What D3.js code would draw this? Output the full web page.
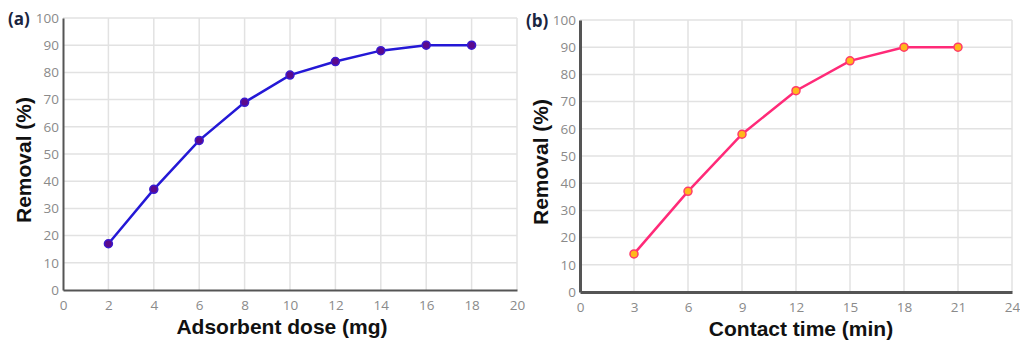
<!DOCTYPE html>
<html>
<head>
<meta charset="utf-8">
<script src="https://cdn.jsdelivr.net/npm/d3@7"></script>
<style>
  body { margin: 0; background: #fff; }
  svg { display: block; }
</style>
</head>
<body>
<svg id="chart" width="1020" height="342"></svg>
<script>
// panel (a) data
const doseX = [2, 4, 6, 8, 10, 12, 14, 16, 18];
const doseRemoval = [17, 37, 55, 69, 79, 84, 88, 90, 90];
const doseTicks = [0, 2, 4, 6, 8, 10, 12, 14, 16, 18, 20];

// panel (b) data
const timeX = [3, 6, 9, 12, 15, 18, 21];
const timeRemoval = [14, 37, 58, 74, 85, 90, 90];
const timeTicks = [0, 3, 6, 9, 12, 15, 18, 21, 24];

const removalTicks = [0, 10, 20, 30, 40, 50, 60, 70, 80, 90, 100];

const svg = d3.select('#chart');

function drawPanel(opt) {
  const x = d3.scaleLinear().domain([0, opt.xMax]).range([opt.left, opt.right]);
  const y = d3.scaleLinear().domain([0, 100]).range([opt.bottom, opt.top]);
  const g = svg.append('g');

  // grid
  g.append('g').selectAll('line').data(opt.xTicks.slice(1)).enter().append('line')
    .attr('x1', d => x(d)).attr('x2', d => x(d))
    .attr('y1', y(0)).attr('y2', y(100))
    .attr('stroke', '#e2e2e2').attr('stroke-width', 1.5);
  g.append('g').selectAll('line').data(removalTicks.slice(1)).enter().append('line')
    .attr('x1', x(0)).attr('x2', x(opt.xMax))
    .attr('y1', d => y(d)).attr('y2', d => y(d))
    .attr('stroke', '#e2e2e2').attr('stroke-width', 1.5);

  // axes
  const xAxis = g.append('g').attr('transform', `translate(0,${y(0)})`)
    .call(d3.axisBottom(x).tickValues(opt.xTicks).tickSize(0).tickPadding(10));
  const yAxis = g.append('g').attr('transform', `translate(${x(0)},0)`)
    .call(d3.axisLeft(y).tickValues(removalTicks).tickSize(0).tickPadding(4));
  [xAxis, yAxis].forEach(a => {
    a.select('.domain').attr('stroke', '#555').attr('stroke-width', opt.axisW);
    a.selectAll('text').attr('fill', '#8a8a8a')
      .attr('font-family', '"Open Sans", sans-serif').attr('font-size', 13.5);
  });

  // line + points
  const pts = opt.xs.map((v, i) => [v, opt.ys[i]]);
  g.append('path').datum(pts)
    .attr('fill', 'none').attr('stroke', opt.lineColor).attr('stroke-width', 2.5)
    .attr('d', d3.line().x(d => x(d[0])).y(d => y(d[1])));
  g.append('g').selectAll('circle').data(pts).enter().append('circle')
    .attr('cx', d => x(d[0])).attr('cy', d => y(d[1])).attr('r', 4)
    .attr('fill', opt.dotFill).attr('stroke', opt.dotStroke).attr('stroke-width', 1.5);

  // titles
  g.append('text').text(opt.xTitle)
    .attr('x', (opt.left + opt.right) / 2 + opt.xTitleShift).attr('y', opt.bottom + 44)
    .attr('text-anchor', 'middle').attr('font-family', 'Arial, "Liberation Sans", sans-serif')
    .attr('font-weight', 'bold').attr('font-size', 21).attr('fill', '#111');
  g.append('text').text('Removal (%)')
    .attr('transform', `translate(${opt.left - 32},${(opt.top + opt.bottom) / 2 + 6}) rotate(-90)`)
    .attr('text-anchor', 'middle').attr('font-family', 'Arial, "Liberation Sans", sans-serif')
    .attr('font-weight', 'bold').attr('font-size', 21).attr('fill', '#111');
  g.append('text').text(opt.tag)
    .attr('x', opt.tagX).attr('y', opt.top + 7)
    .attr('font-family', '"Open Sans", sans-serif').attr('font-weight', 'bold')
    .attr('font-size', 17).attr('fill', '#1a2540');
}

drawPanel({
  xs: doseX, ys: doseRemoval, xTicks: doseTicks, xMax: 20,
  left: 63, right: 517, top: 18, bottom: 290, axisW: 2,
  lineColor: '#2418d6', dotFill: '#5b0a8c', dotStroke: '#3a1ad0',
  xTitle: 'Adsorbent dose (mg)', xTitleShift: -8, tag: '(a)', tagX: 8
});

drawPanel({
  xs: timeX, ys: timeRemoval, xTicks: timeTicks, xMax: 24,
  left: 580, right: 1012, top: 20, bottom: 292, axisW: 3,
  lineColor: '#ff2a78', dotFill: '#ffb81a', dotStroke: '#ff3a6a',
  xTitle: 'Contact time (min)', xTitleShift: 5, tag: '(b)', tagX: 526
});
</script>
</body>
</html>
